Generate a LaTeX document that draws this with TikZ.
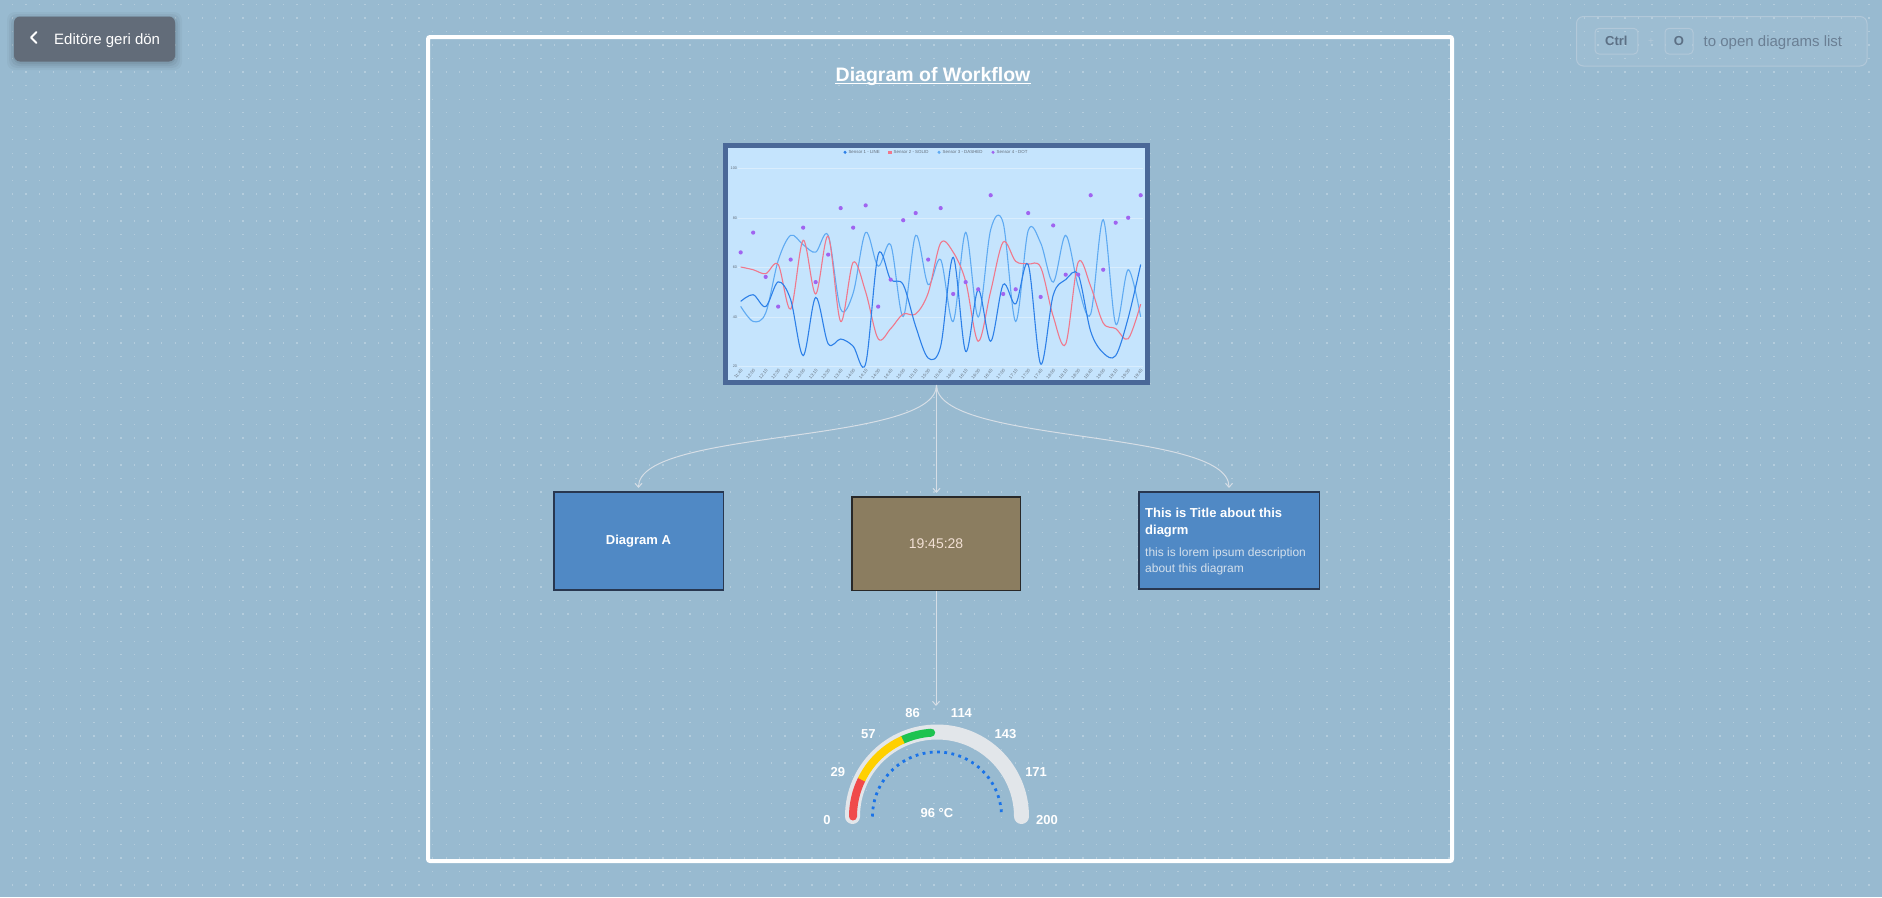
\documentclass[tikz,border=0pt]{standalone}
\usepackage{fontspec}
\setmainfont{Liberation Sans}
\usetikzlibrary{arrows.meta}
\definecolor{bg}{RGB}{152,186,208}
\definecolor{btn}{RGB}{98,108,121}
\definecolor{chartborder}{RGB}{74,104,152}
\definecolor{chartfill}{RGB}{197,228,253}
\definecolor{sone}{RGB}{45,128,232}
\definecolor{stwo}{RGB}{240,120,140}
\definecolor{sthree}{RGB}{95,170,242}
\definecolor{sfour}{RGB}{160,100,240}
\definecolor{boxblue}{RGB}{80,137,197}
\definecolor{boxborder}{RGB}{40,55,80}
\definecolor{clockfill}{RGB}{139,125,96}
\definecolor{clockborder}{RGB}{40,40,40}
\definecolor{clocktext}{RGB}{242,224,212}
\definecolor{descgray}{RGB}{212,224,236}
\definecolor{conncol}{RGB}{214,222,230}
\definecolor{track}{RGB}{226,230,234}
\definecolor{gred}{RGB}{240,75,75}
\definecolor{gyellow}{RGB}{255,208,0}
\definecolor{ggreen}{RGB}{30,195,80}
\definecolor{gblue}{RGB}{26,115,232}
\definecolor{kbdtext}{RGB}{92,112,133}
\definecolor{kbdborder}{RGB}{178,200,217}
\definecolor{hinttext}{RGB}{106,127,148}
\definecolor{axistext}{RGB}{100,110,122}
\begin{document}
\begin{tikzpicture}[x=1pt,y=-1pt,
  conn/.style={draw=conncol, line width=1pt, -{Straight Barb[length=4pt,width=7pt]}},
  flowbox/.style={draw=boxborder, line width=1.5pt, fill=boxblue, inner sep=0},
  kbd/.style={draw=kbdborder, line width=1pt, rounded corners=4pt, inner sep=0, text=kbdtext, font=\bfseries\fontsize{13}{15}\selectfont},
  legendtxt/.style={anchor=west, inner sep=0, text=axistext, font=\fontsize{4.4}{5}\selectfont},
  xlab/.style={inner sep=0, text=axistext, font=\fontsize{4.4}{5}\selectfont},
  glabel/.style={text=white, inner sep=0, font=\bfseries\fontsize{13}{15}\selectfont}]
\useasboundingbox (0,0) rectangle (1882,897);
\fill[bg] (0,0) rectangle (1882,897);
% dot grid
\foreach \k in {0,...,66} {
  \draw[white, opacity=0.27, line width=1.3pt, dash pattern=on 1.3pt off 12.25pt] (11.9,4.3+13.55*\k) -- (1882,4.3+13.55*\k);
}
% back button
\foreach \s/\o in {7/0.03,5/0.04,3/0.05,1/0.06} {
  \fill[black, opacity=\o, rounded corners=8pt] (14-\s,19-\s) rectangle (175+\s,63+\s);
}
\node[fill=btn, rounded corners=6pt, minimum width=161pt, minimum height=45pt, inner sep=0] (back) at (94.5,39) {};
\draw[white, line width=1.8pt, line cap=round, line join=round] (36.5,32) -- (31,37.5) -- (36.5,43);
\node[anchor=base west, inner sep=0, text=white, font=\fontsize{15}{18}\selectfont] (backtxt) at (54,44) {Editöre geri dön};
% shortcut hint
\node[draw=kbdborder, line width=1pt, fill=white, fill opacity=0.05, draw opacity=1, rounded corners=7pt, minimum width=290.5pt, minimum height=49.5pt, inner sep=0] (hint) at (1721.75,41.25) {};
\node[kbd, minimum width=42.7pt, minimum height=25.7pt] (ctrl) at (1616.4,41.2) {Ctrl};
\node[inner sep=0, text=kbdborder, font=\fontsize{10}{12}\selectfont] (plus) at (1651,41.5) {+};
\node[kbd, minimum width=28pt, minimum height=25.7pt] (okey) at (1679,41.2) {O};
\node[anchor=base west, inner sep=0, text=hinttext, font=\fontsize{15}{18}\selectfont] (hinttxt) at (1703.5,46.5) {to open diagrams list};
% frame
\draw[white, line width=4pt, rounded corners=2pt] (428,37) rectangle (1452,861);
% title
\node[anchor=base, inner sep=0, text=white, font=\bfseries\fontsize{19.5}{22}\selectfont] (title) at (933,81.5) {Diagram of Workflow};
\draw[white, line width=1.7pt] ([yshift=-2pt]title.base west) -- ([yshift=-2pt]title.base east);
% chart
\node[draw=chartborder, line width=5pt, fill=chartfill, minimum width=422pt, minimum height=237pt, inner sep=0] (chart) at (936.5,264) {};
% legend
\fill[sone] (845,152.3) circle[radius=1.7pt];
\node[legendtxt] (lg1) at (848.3,152.3) {Sensor 1 - LINE};
\fill[stwo] (888.4,150.7) rectangle (891.6,153.9);
\node[legendtxt] (lg2) at (893.5,152.3) {Sensor 2 - SOLID};
\fill[sthree] (939,152.3) circle[radius=1.7pt];
\node[legendtxt] (lg3) at (942.5,152.3) {Sensor 3 - DASHED};
\fill[sfour] (993,152.3) circle[radius=1.7pt];
\node[legendtxt] (lg4) at (996.5,152.3) {Sensor 4 - DOT};
% gridlines and y labels
\foreach \v/\yy in {100/168.3,80/217.8,60/267.3,40/316.8,20/366.3} {
  \draw[white, opacity=0.35, line width=0.5pt] (738,\yy) -- (1143,\yy);
  \node[anchor=east, inner sep=0, text=axistext, font=\fontsize{3.8}{4.5}\selectfont] (yl\v) at (737.2,\yy) {\v};
}
% x labels
\foreach \i in {0,...,32} {
  \pgfmathtruncatemacro{\tot}{705+15*\i}
  \pgfmathtruncatemacro{\hh}{\tot/60}
  \pgfmathtruncatemacro{\mm}{\tot-60*\hh}
  \node[xlab, rotate=50, anchor=east] (xl\i) at (742+12.5*\i,369.5) {\hh:\ifnum\mm=0 00\else\mm\fi};
}
% series
\begin{scope}
\clip (728,148) rectangle (1145,380);
\begin{scope}[shift={(740.67,415.5)}, x=12.5pt, y=2.475pt]
\draw[sthree, line width=1.1pt] plot[smooth, tension=0.55] coordinates {(0,44.1) (1,38) (2,41.4) (3,62.6) (4,72.8) (5,69) (6,66) (7,72.8) (8,43) (9,49.5) (10,74) (11,60.3) (12,69) (13,40) (14,72.8) (15,52.9) (16,63) (17,38) (18,74) (19,39.8) (20,75.1) (21,77.8) (22,38) (23,74.7) (24,69.7) (25,53.9) (26,72.8) (27,52.2) (28,41) (29,79.1) (30,37) (31,58.9) (32,39.8)};
\draw[stwo, line width=1.1pt] plot[smooth, tension=0.55] coordinates {(0,60) (1,58.9) (2,57.3) (3,61) (4,43) (5,70.8) (6,49.1) (7,72.4) (8,38) (9,61.9) (10,49.9) (11,31) (12,35.1) (13,41) (14,41) (15,49.5) (16,69.7) (17,66) (18,54.2) (19,30) (20,50.2) (21,70.1) (22,62.3) (23,61.2) (24,59.9) (25,40.1) (26,28.9) (27,61.9) (28,52.2) (29,37.4) (30,35.1) (31,31) (32,45)};
\draw[sone, line width=1.1pt] plot[smooth, tension=0.55] coordinates {(0,46.1) (1,48.8) (2,44) (3,54) (4,46.8) (5,24.2) (6,47.7) (7,29) (8,30.9) (9,28) (10,21) (11,65) (12,54.9) (13,52.9) (14,36) (15,23.2) (16,28) (17,63.9) (18,25.9) (19,50.8) (20,30) (21,52.9) (22,45.1) (23,61) (24,20.8) (25,48.6) (26,54.9) (27,56.9) (28,34) (29,25.3) (30,24.2) (31,39.4) (32,61)};
\foreach \v [count=\i from 0] in {65.9,73.9,56,44,63,75.9,53.9,65,83.8,75.9,84.9,44,54.9,78.9,81.8,63,83.8,49.1,53.9,51,89,49.1,51,81.8,47.9,76.8,56.9,56.9,89,58.9,77.9,79.9,89} {
  \fill[sfour] (\i,\v) circle[radius=2.1pt];
}
\end{scope}
\end{scope}
% boxes
\node[flowbox, minimum width=169.5pt, minimum height=98pt] (diagA) at (638.5,540.75) {};
\node[inner sep=0, text=white, font=\bfseries\fontsize{13}{15}\selectfont] (diagAtxt) at (638.5,541) {Diagram A};
\node[draw=clockborder, line width=1.5pt, fill=clockfill, inner sep=0, minimum width=168.5pt, minimum height=93.5pt] (clock) at (936,543.5) {};
\node[inner sep=0, text=clocktext, font=\fontsize{14}{16}\selectfont] (clocktxt) at (936,543.5) {19:45:28};
\node[flowbox, minimum width=180.5pt, minimum height=97pt] (tbox) at (1229,540.25) {};
\node[anchor=base west, inner sep=0, text=white, font=\bfseries\fontsize{13}{15}\selectfont] (tt1) at (1145,517) {This is Title about this};
\node[anchor=base west, inner sep=0, text=white, font=\bfseries\fontsize{13}{15}\selectfont] (tt2) at (1145,534) {diagrm};
\node[anchor=base west, inner sep=0, text=descgray, font=\fontsize{12}{14}\selectfont] (td1) at (1145,556) {this is lorem ipsum description};
\node[anchor=base west, inner sep=0, text=descgray, font=\fontsize{12}{14}\selectfont] (td2) at (1145,572) {about this diagram};
% gauge
\begin{scope}[shift={(937,816.5)}, x=1pt, y=1pt]
\draw[track, line width=15pt, line cap=round] (180:84.5) arc[start angle=180, end angle=0, radius=84.5];
\draw[ggreen, line width=8pt, line cap=round] (114:84) arc[start angle=114, end angle=94, radius=84];
\draw[gred, line width=8pt, line cap=round] (180:84) arc[start angle=180, end angle=154, radius=84];
\draw[gyellow, line width=8pt] (154:84) arc[start angle=154, end angle=114, radius=84];
\draw[gblue, line width=2.8pt, dash pattern=on 2.8pt off 4.44pt] (180:64.5) arc[start angle=180, end angle=0, radius=64.5];
\foreach \val [count=\k from 0] in {0,29,57,86,114,143,171,200} {
  \path ({180-\k*180/7}:110) ++(0,-3.5) node[glabel] (gl\k) {\val};
}
\node[glabel] (gval) at (0,3.8) {96 °C};
\coordinate (gtop) at (0,110.5);
\end{scope}
% connectors
\draw[conn] (chart.south) .. controls +(0,60) and +(0,-60) .. ([yshift=3pt]diagA.north);
\draw[conn] (chart.south) -- ([yshift=3pt]chart.south |- clock.north);
\draw[conn] (chart.south) .. controls +(0,60) and +(0,-60) .. ([yshift=3pt]tbox.north);
\draw[conn] (clock.south) -- (clock.south |- gtop);
\end{tikzpicture}
\end{document}
